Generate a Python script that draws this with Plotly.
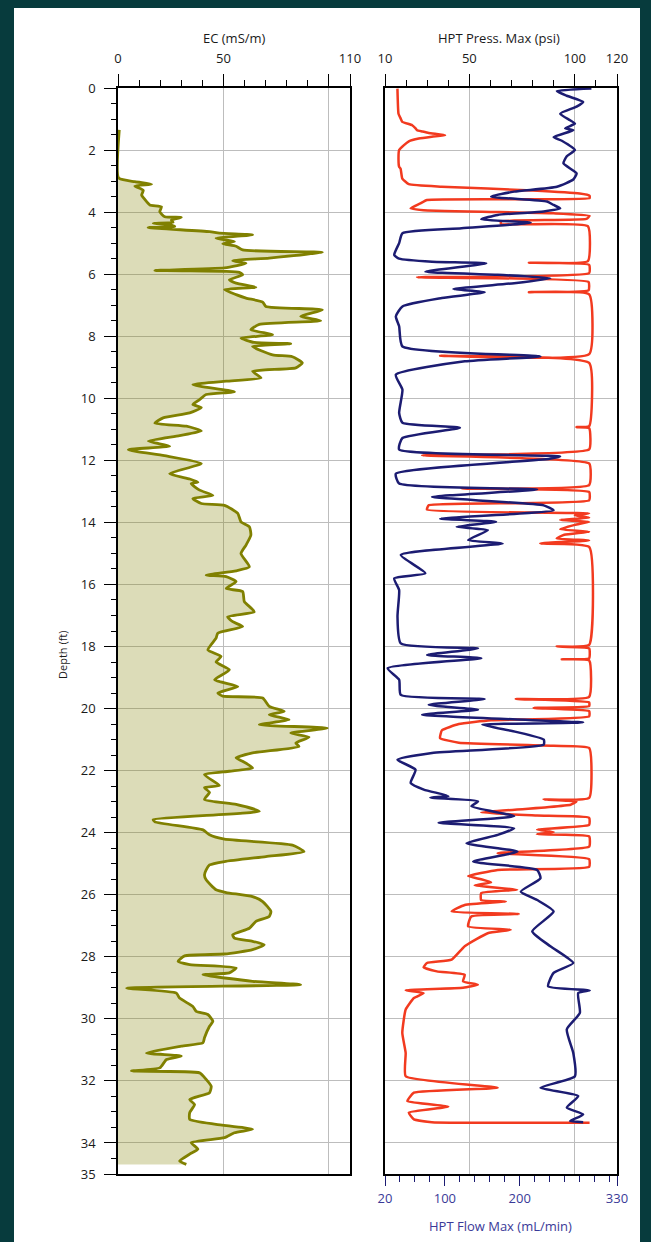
import plotly.graph_objects as go

# ---------------- data ----------------
ec_depth = [1.35, 2.9, 3.02, 3.1, 3.16, 3.3, 3.45, 3.59, 3.77, 3.83, 3.99, 4.15, 4.17, 4.26, 4.33, 4.36, 4.42, 4.47, 4.5,
            4.63, 4.68, 4.73, 4.84, 4.95, 5.02, 5.1, 5.22, 5.3, 5.48, 5.57, 5.65, 5.8, 5.88, 5.91, 5.94, 6.02, 6.18, 6.29,
            6.42, 6.5, 6.66, 6.77, 6.9, 7.04, 7.15, 7.36, 7.5, 7.62, 7.79, 7.95, 8.06, 8.2, 8.24, 8.33, 8.6, 8.66, 8.86,
            9.02, 9.13, 9.34, 9.45, 9.56, 9.79, 9.88, 10.04, 10.2, 10.3, 10.47, 10.63, 10.8, 10.9, 11.05, 11.2, 11.38,
            11.54, 11.66, 11.85, 12.1, 12.43, 12.6, 12.7, 12.75, 12.96, 13.13, 13.23, 13.39, 13.45, 13.71, 13.98, 14.14,
            14.41, 14.73, 15.0, 15.43, 15.56, 15.7, 15.75, 15.91, 16.13, 16.23, 16.55, 16.88, 17.04, 17.2, 17.36, 17.57,
            17.73, 18.11, 18.32, 18.5, 18.75, 19.07, 19.29, 19.5, 19.6, 19.66, 19.93, 20.09, 20.2, 20.36, 20.52, 20.63,
            20.79, 20.92, 21.11, 21.22, 21.43, 21.59, 21.7, 21.91, 22.02, 22.13, 22.48, 22.55, 22.7, 22.93, 23.09, 23.31,
            23.58, 23.65, 23.91, 24.07, 24.21, 24.4, 24.61, 24.77, 24.93, 25.04, 25.2, 25.36, 25.52, 25.84, 25.93, 26.06,
            26.22, 26.54, 26.7, 26.86, 27.08, 27.29, 27.4, 27.5, 27.61, 27.77, 27.91, 27.97, 28.15, 28.25, 28.36, 28.52,
            28.58, 28.79, 28.9, 29.01, 29.17, 29.33, 29.6, 29.76, 29.86, 30.08, 30.24, 30.61, 30.77, 30.88, 31.1, 31.2,
            31.31, 31.58, 31.68, 31.74, 31.95, 32.17, 32.38, 32.6, 32.76, 33.02, 33.24, 33.4, 33.56, 33.67, 33.83, 33.99,
            34.2, 34.36, 34.58, 34.69]
ec_value = [0.6, 0.3, 8.0, 15.9, 8.0, 12.0, 11.2, 12.7, 15.1, 20.6, 19.8, 22.2, 30.0, 25.3, 26.1, 16.7, 25.3, 26.9, 14.3,
            43.4, 48.1, 63.8, 46.5, 55.2, 49.7, 56.0, 59.1, 96.9, 71.7, 54.4, 60.7, 50.5, 17.5, 50.5, 57.5, 59.1, 52.8, 56.0,
            65.4, 50.5, 56.0, 60.7, 68.6, 70.1, 96.9, 86.6, 96.1, 67.0, 63.0, 73.3, 58.3, 64.6, 81.9, 63.8, 73.3, 82.7, 87.4,
            84.3, 63.8, 67.8, 51.3, 35.5, 55.2, 41.8, 38.7, 35.5, 39.5, 34.0, 21.4, 17.5, 32.4, 39.5, 29.2, 14.3,
            24.5, 4.9, 22.0, 39.5, 24.5, 34.0, 37.9, 34.7, 38.7, 45.0, 35.5, 39.5, 50.5, 56.8, 58.3, 62.3,
            63.0, 60.7, 58.3, 62.3, 56.0, 41.8, 51.3, 56.0, 51.3, 59.1, 59.9, 64.6, 52.0, 54.4, 59.1, 47.3,
            46.5, 42.6, 48.9, 46.5, 52.8, 45.8, 56.8, 47.3, 49.7, 68.6, 71.7, 78.8, 71.7, 81.1, 67.0, 99.2,
            81.9, 90.6, 84.3, 85.8, 63.8, 56.0, 59.1, 63.8, 52.8, 41.0, 48.1, 41.0, 43.4, 41.0, 56.0, 67.0,
            16.7, 17.5, 40.3, 43.4, 50.5, 82.7, 88.2, 70.1, 50.5, 43.4, 41.8, 41.0, 41.8, 46.5, 51.3, 63.8,
            68.6, 72.5, 71.7, 65.4, 62.3, 54.4, 55.2, 63.8, 69.3, 63.8, 50.5, 31.6, 28.5, 34.0, 56.0, 52.8,
            40.3, 63.8, 86.6, 4.1, 27.7, 29.2, 35.5, 37.1, 42.6, 45.0, 43.4, 41.0, 40.3, 30.0, 13.5, 30.0,
            23.0, 19.8, 6.4, 38.7, 41.8, 44.2, 43.4, 34.0, 36.3, 34.0, 34.0, 46.5, 63.8, 55.2, 50.5, 34.7,
            37.9, 34.0, 29.2, 32.4]

press_depth = [0.02, 0.83, 0.98, 1.09, 1.2, 1.3, 1.36, 1.4, 1.45, 1.52, 1.57, 1.63, 1.72, 1.84, 2.0, 2.3, 2.54, 2.6, 2.92,
               3.1, 3.18, 3.3, 3.4, 3.47, 3.55, 3.61, 3.72, 3.88, 3.94, 4.04, 4.12, 4.22, 4.3, 4.38, 4.45, 5.58, 5.63,
               5.7, 5.97, 6.1, 6.25, 6.52, 6.58, 6.65, 8.58, 8.63, 8.86, 10.9, 10.93, 10.96, 11.65, 11.84, 12.1, 12.8,
               12.91, 13.02, 13.29, 13.45, 13.59, 13.71, 13.77, 13.85, 13.92, 13.98, 14.08, 14.22, 14.3, 14.4, 14.52,
               14.58, 14.68, 14.79, 17.95, 18.0, 18.06, 18.38, 18.41, 18.45, 19.62, 19.69, 19.8, 19.92, 19.98, 20.08,
               20.25, 20.38, 20.5, 20.7, 20.95, 21.1, 21.2, 21.27, 22.88, 22.93, 23.0, 23.1, 23.18, 23.35, 23.45, 23.52,
               23.75, 23.9, 23.98, 24.05, 24.12, 24.45, 24.66, 24.85, 25.1, 25.2, 25.4, 25.5, 25.6, 25.7, 25.84, 25.95,
               26.17, 26.22, 26.33, 26.54, 26.62, 26.7, 27.02, 27.13, 27.24, 27.66, 28.09, 28.2, 28.34, 28.47, 28.58,
               28.79, 28.9, 29.0, 29.08, 29.17, 29.33, 29.7, 30.45, 31.1, 31.85, 32.22, 32.38, 32.65, 32.83, 33.02,
               33.24, 33.33, 33.35]
press_psi = [15.9, 16.4, 17.4, 18.2, 22.9, 24.5, 25.2, 27.6, 30.7, 38.5, 32.2, 26.0, 21.3, 19.0, 16.7, 16.4, 16.7, 17.4, 18.2,
             21.3, 36.9, 80.0, 102.3, 107.0, 107.0, 29.9, 26.8, 22.1, 28.3, 89.9, 107.0, 105.5, 65.0, 65.0, 106.2, 106.2, 78.2,
             106.8, 106.8, 25.2, 106.5, 106.5, 78.2, 106.8, 106.8, 36.1, 106.8, 106.8, 100.8, 106.8, 106.8, 27.6, 106.8, 106.8,
             46.3, 106.8, 106.8, 30.7, 29.9, 106.8, 100.0, 106.8, 93.0, 106.8, 100.0, 93.0, 106.8, 95.0, 91.4,
             106.8, 83.6, 106.8, 106.8, 91.4, 106.8, 106.8, 93.8, 106.8, 106.8, 72.0, 106.8, 106.8, 80.5, 106.8,
             106.8, 60.3, 45.0, 37.0, 36.1, 45.0, 90.0, 106.8, 106.8, 85.2, 100.8, 98.0, 86.8, 55.6, 82.1, 106.8,
             106.8, 82.1, 90.0, 82.0, 106.8, 106.8, 63.4, 106.8, 106.8, 63.4, 49.4, 55.6, 60.3, 52.5, 72.7, 55.6,
             55.6, 67.3, 47.8, 41.6, 73.5, 50.9, 49.4, 69.6, 58.7, 47.8, 41.6, 29.9, 28.3, 34.6, 47.8,
             47.0, 54.0, 47.0, 19.8, 28.3, 23.7, 19.8, 18.2, 19.8, 19.8, 63.4, 23.7, 20.6, 40.0, 21.3,
             23.7, 32.2, 107.0]

flow_depth = [0.02, 0.1, 0.25, 0.45, 0.6, 0.83, 1.04, 1.15, 1.3, 1.36, 1.58, 1.7, 2.0, 2.2, 2.43, 2.75, 2.95, 3.18, 3.34,
              3.5, 3.66, 3.77, 3.88, 3.98, 4.09, 4.23, 4.34, 4.52, 4.68, 5.0, 5.38, 5.5, 5.6, 5.65, 5.92, 6.02, 6.13, 6.29,
              6.48, 6.58, 6.77, 7.04, 7.36, 7.68, 8.33, 8.65, 8.81, 9.24, 9.72, 10.47, 10.79, 10.95, 11.28, 11.65, 11.87,
              11.95, 12.43, 12.75, 12.94, 13.18, 13.45, 13.61, 13.88, 13.98, 14.14, 14.25, 14.57, 14.68, 15.05, 15.64,
              15.8, 16.18, 17.04, 17.9, 18.06, 18.27, 18.38, 18.7, 19.07, 19.56, 19.69, 19.88, 20.04, 20.2, 20.45, 20.52,
              20.75, 21.0, 21.16, 21.43, 21.65, 21.97, 22.4, 22.61, 22.82, 22.87, 22.99, 23.15, 23.47, 23.68, 23.86,
              24.07, 24.34, 24.61, 24.93, 25.2, 25.47, 25.9, 26.17, 26.54, 27.18, 27.66, 28.2, 28.52, 28.95, 29.08,
              29.17, 29.81, 30.34, 31.1, 31.85, 32.22, 32.49, 32.86, 33.08, 33.29, 33.33]
flow_mlmin = [295.8, 249.7, 262.9, 284.8, 276.0, 254.1, 267.3, 273.8, 260.7, 271.6, 245.3, 256.3, 273.8, 262.9, 258.5, 276.0,
              271.6, 249.7, 192.6, 161.9, 236.5, 245.3, 254.1, 232.1, 170.6, 148.7, 214.6, 122.3, 43.3, 38.9, 32.3, 38.9,
              82.8, 155.3, 74.0, 170.6, 240.9, 192.6, 111.3, 153.1, 96.0, 43.3, 34.5, 38.9, 43.3, 227.7, 126.7, 34.5,
              43.3, 38.9, 43.3, 120.1, 43.3, 38.9, 254.1, 240.0, 34.5, 38.9, 223.3, 82.8, 232.1, 245.3, 93.8, 168.4,
              115.7, 157.5, 131.1, 177.2, 41.1, 74.0, 32.3, 38.9, 36.7, 41.1, 144.3, 76.2, 148.7, 23.5, 38.9, 41.1,
              153.1, 78.4, 144.3, 69.6, 284.8, 150.0, 195.0, 232.1, 232.1, 82.8, 36.7, 60.8, 54.3, 71.8, 104.8, 80.6,
              144.3, 135.5, 192.6, 91.6, 192.6, 170.6, 128.9, 197.0, 137.7, 223.3, 227.7, 201.4, 223.3, 245.3, 216.8,
              240.9, 271.6, 245.3, 238.0, 293.6, 278.2, 280.4, 262.9, 271.6, 273.8, 227.7, 278.2, 262.9, 284.8, 267.3,
              284.8]

depth_ticks = [0, 2, 4, 6, 8, 10, 12, 14, 16, 18, 20, 22, 24, 26, 28, 30, 32, 34, 35]
depth_mid_ticks = [1, 3, 5, 7, 9, 11, 13, 15, 17, 19, 21, 23, 25, 27, 29, 31, 33]
ec_ticks = [0, 50, 100, 110]
ec_ticktext = ["0", "50", "", "110"]
press_ticks = [10, 50, 100, 120]
flow_ticks = [20, 100, 200, 330]

# ---------------- layout helpers ----------------
W, H = 651, 1242


def px(x):
    return x / W


def py(y):
    return 1 - y / H


OLIVE = "#808000"
RED = "#F23A1F"
NAVY = "#1C1C72"
GRID = "#BDBDBD"
FONT = "Open Sans, Liberation Sans, sans-serif"
TXT = "#1a1a1a"

fig = go.Figure()
fig.add_trace(go.Scatter(x=ec_value, y=ec_depth, xaxis="x", yaxis="y", mode="lines",
                         line=dict(color=OLIVE, width=2.8, shape="spline", smoothing=0.5), fill="tozerox",
                         fillcolor="rgba(128,128,0,0.28)", showlegend=False, hoverinfo="skip"))
fig.add_trace(go.Scatter(x=press_psi, y=press_depth, xaxis="x2", yaxis="y2", mode="lines",
                         line=dict(color=RED, width=2.5, shape="spline", smoothing=0.4),
                         showlegend=False, hoverinfo="skip"))
fig.add_trace(go.Scatter(x=flow_mlmin, y=flow_depth, xaxis="x3", yaxis="y2", mode="lines",
                         line=dict(color=NAVY, width=2.5, shape="spline", smoothing=0.5),
                         showlegend=False, hoverinfo="skip"))

ydom = [py(1174), py(88)]
left_dom = [px(118), px(350)]
right_dom = [px(385), px(617)]

common_x = dict(ticks="outside", ticklen=12, tickwidth=1.2, tickcolor="black", showline=True, linecolor="black",
                linewidth=1.5, mirror=True, showgrid=True, gridcolor=GRID, gridwidth=1, zeroline=False,
                automargin=False, tickfont=dict(family=FONT, size=13, color=TXT), ticklabelstandoff=6)

fig.update_layout(
    width=W, height=H, autosize=False,
    margin=dict(l=0, r=0, t=0, b=0, pad=0, autoexpand=False),
    paper_bgcolor="#073B3D", plot_bgcolor="rgba(0,0,0,0)",
    showlegend=False,
    xaxis=dict(domain=left_dom, range=[0, 110], side="top", anchor="y", tickmode="array",
               tickvals=ec_ticks, ticktext=ec_ticktext,
               minor=dict(tickmode="linear", tick0=0, dtick=10, ticks="outside", ticklen=6, tickcolor="black",
                          showgrid=False), **common_x),
    yaxis=dict(domain=ydom, range=[35, 0], anchor="x", side="left", tickmode="array", tickvals=depth_ticks,
               ticks="outside", ticklen=12, tickwidth=1.2, tickcolor="black", showline=True, linecolor="black",
               linewidth=1.5, mirror=True, showgrid=True, gridcolor=GRID, gridwidth=1, zeroline=False,
               automargin=False, tickfont=dict(family=FONT, size=13, color=TXT), ticklabelstandoff=6,
               minor=dict(tickmode="linear", tick0=0, dtick=0.5, ticks="outside", ticklen=5, tickcolor="black",
                          showgrid=False)),
    yaxis3=dict(overlaying="y", anchor="x", side="left", range=[35, 0], tickmode="array", tickvals=depth_mid_ticks,
                showticklabels=False, ticks="outside", ticklen=9, tickwidth=1.2, tickcolor="black", showgrid=False,
                showline=False, zeroline=False, automargin=False),
    xaxis2=dict(domain=right_dom, range=[10, 120], side="top", anchor="y2", tickmode="array", tickvals=press_ticks,
                minor=dict(tickmode="linear", tick0=0, dtick=10, ticks="outside", ticklen=6, tickcolor="black",
                           showgrid=False), **common_x),
    yaxis2=dict(domain=ydom, range=[35, 0], anchor="x2", tickmode="array", tickvals=depth_ticks[:-1],
                showticklabels=False, ticks="", showline=True, linecolor="black", linewidth=1.5, mirror=True,
                showgrid=True, gridcolor=GRID, gridwidth=1, zeroline=False, automargin=False),
    xaxis3=dict(overlaying="x2", side="bottom", anchor="y2", range=[20, 330], tickmode="array", tickvals=flow_ticks,
                ticks="outside", ticklen=10, tickwidth=1.2, tickcolor=NAVY, showline=True, linecolor="black",
                linewidth=1.5, showgrid=False, zeroline=False, ticklabelstandoff=2, automargin=False,
                tickfont=dict(family=FONT, size=13, color="#3A3A98"),
                minor=dict(tickmode="linear", tick0=20, dtick=20, ticks="outside", ticklen=6, tickcolor=NAVY,
                           showgrid=False)),
    shapes=[dict(type="rect", xref="paper", yref="paper", x0=px(14), x1=px(640), y0=0, y1=py(8),
                 fillcolor="white", line=dict(width=0), layer="below")],
    annotations=[
        dict(text="EC (mS/m)", x=px(234), y=py(38), xref="paper", yref="paper", showarrow=False,
             xanchor="center", yanchor="middle", font=dict(family=FONT, size=13, color=TXT)),
        dict(text="HPT Press. Max (psi)", x=px(499), y=py(38), xref="paper", yref="paper", showarrow=False,
             xanchor="center", yanchor="middle", font=dict(family=FONT, size=13, color=TXT)),
        dict(text="HPT Flow Max (mL/min)", x=px(500), y=py(1226), xref="paper", yref="paper", showarrow=False,
             xanchor="center", yanchor="middle", font=dict(family=FONT, size=13, color="#3A3A98")),
        dict(text="Depth (ft)", x=px(62), y=py(655), xref="paper", yref="paper", showarrow=False, textangle=-90,
             xanchor="center", yanchor="middle", font=dict(family=FONT, size=11, color=TXT)),
    ],
)

fig.write_html("out.html", config={"displayModeBar": False},
               post_script="document.documentElement.style.background='#073B3D';"
                           "document.body.style.margin='0';")
